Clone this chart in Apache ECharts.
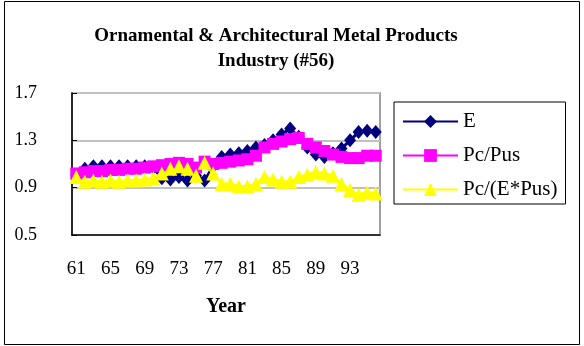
<!DOCTYPE html>
<html>
<head>
<meta charset="utf-8">
<script src="https://cdn.jsdelivr.net/npm/echarts@6/dist/echarts.min.js"></script>
<style>html,body{margin:0;padding:0;background:#fff}#c{width:584px;height:346px}</style>
</head>
<body>
<div id="c"></div>
<script>
const years = ['61','62','63','64','65','66','67','68','69','70','71','72','73','74','75','76','77','78','79','80','81','82','83','84','85','86','87','88','89','90','91','92','93','94','95','96'];
const seriesE = [1.01,1.06,1.08,1.08,1.08,1.08,1.08,1.08,1.08,1.07,0.98,0.97,0.99,0.96,1.00,0.96,1.08,1.16,1.18,1.19,1.21,1.24,1.26,1.30,1.35,1.40,1.33,1.24,1.18,1.16,1.19,1.23,1.30,1.37,1.38,1.37];
const seriesPcPus = [1.02,1.03,1.04,1.04,1.05,1.05,1.06,1.06,1.07,1.08,1.09,1.10,1.11,1.10,1.07,1.12,1.10,1.11,1.12,1.13,1.14,1.17,1.24,1.27,1.29,1.31,1.32,1.27,1.24,1.21,1.18,1.16,1.15,1.15,1.17,1.17];
const seriesPcEPus = [0.99,0.95,0.96,0.95,0.96,0.95,0.96,0.96,0.97,0.98,1.02,1.06,1.08,1.06,1.00,1.11,1.02,0.93,0.93,0.91,0.91,0.93,0.99,0.97,0.95,0.95,0.99,1.01,1.03,1.02,1.00,0.93,0.88,0.84,0.86,0.85];
const yTicks = [0.5, 0.9, 1.3, 1.7];
const titleText = 'Ornamental & Architectural Metal Products\nIndustry (#56)';

const serif = '"Liberation Serif","Times New Roman",serif';
const chart = echarts.init(document.getElementById('c'), null, {renderer: 'canvas'});
chart.setOption({
  animation: false,
  backgroundColor: '#fff',
  title: {
    text: titleText, left: 271, top: 19, textAlign: 'center',
    textStyle: {fontFamily: serif, fontWeight: 'bold', fontSize: 19, color: '#000', lineHeight: 25}
  },
  graphic: [{type: 'rect', shape: {x: 4.5, y: 1.5, width: 575, height: 343}, style: {fill: 'none', stroke: '#000', lineWidth: 1}}],
  legend: {
    orient: 'vertical', left: 394, top: 102,
    padding: [9, 8, 4, 8], itemGap: 13, itemWidth: 55, itemHeight: 16,
    borderColor: '#000', borderWidth: 1, backgroundColor: '#fff',
    textStyle: {fontFamily: serif, fontSize: 21, color: '#000'},
    data: ['E', 'Pc/Pus', 'Pc/(E*Pus)']
  },
  grid: {left: 72, right: 204, top: 93, bottom: 111, show: true, borderColor: '#808080', borderWidth: 1.5, backgroundColor: 'transparent'},
  xAxis: [{
    type: 'category', data: years, boundaryGap: true,
    name: 'Year', nameLocation: 'middle', nameGap: 62,
    nameTextStyle: {fontFamily: serif, fontWeight: 'bold', fontSize: 20, color: '#000'},
    axisLine: {lineStyle: {color: '#000', width: 1.5}},
    axisTick: {inside: true, length: 5, interval: 0, lineStyle: {color: '#000'}},
    axisLabel: {interval: 3, margin: 25, fontFamily: serif, fontSize: 19, color: '#000'}
  }, {
    type: 'category', data: years, boundaryGap: true, position: 'bottom',
    axisLine: {show: false},
    axisTick: {inside: true, length: 3, interval: 0, alignWithLabel: true, lineStyle: {color: '#000'}},
    axisLabel: {show: false}
  }],
  yAxis: {
    type: 'value', min: yTicks[0], max: yTicks[yTicks.length - 1], interval: 0.4,
    axisLine: {show: true, lineStyle: {color: '#000', width: 1.5}},
    axisTick: {show: true, inside: true, length: 5, lineStyle: {color: '#000'}},
    axisLabel: {margin: 35, fontFamily: serif, fontSize: 18, color: '#000', formatter: v => v.toFixed(1)},
    splitLine: {lineStyle: {color: '#c0c0c0', width: 2}}
  },
  series: [
    {name: 'E', type: 'line', data: seriesE, symbol: 'diamond', symbolSize: [12, 14], showAllSymbol: true,
     lineStyle: {color: '#000080', width: 3}, itemStyle: {color: '#000080'}},
    {name: 'Pc/Pus', type: 'line', data: seriesPcPus, symbol: 'rect', symbolSize: 12, showAllSymbol: true,
     lineStyle: {color: '#ff00ff', width: 3}, itemStyle: {color: '#ff00ff'}},
    {name: 'Pc/(E*Pus)', type: 'line', data: seriesPcEPus, symbol: 'triangle', symbolSize: 14, showAllSymbol: true,
     lineStyle: {color: '#ffff00', width: 3}, itemStyle: {color: '#ffff00'}}
  ]
});
</script>
</body>
</html>
